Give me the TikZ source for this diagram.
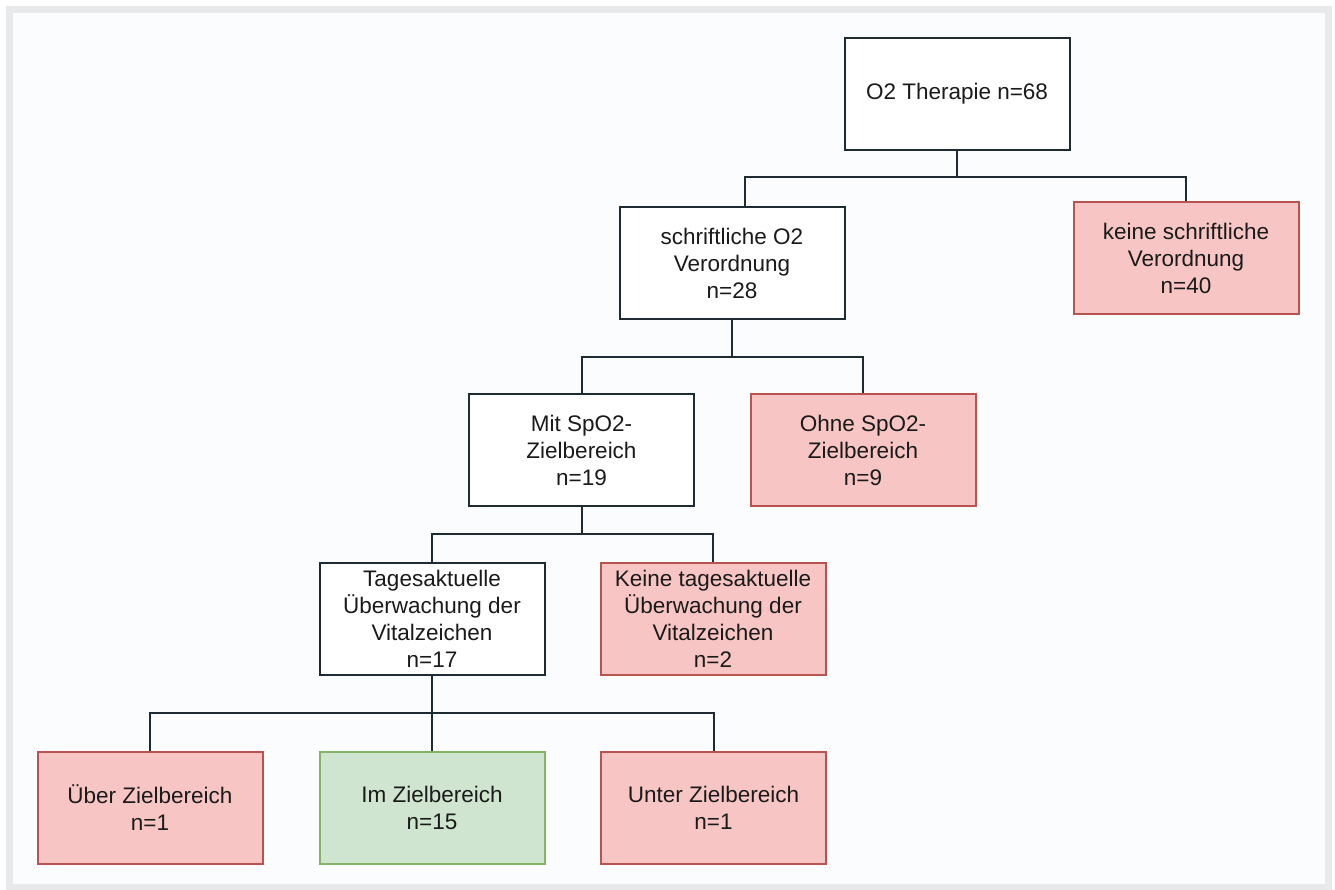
\documentclass[tikz,border=0pt]{standalone}
\usepackage{fontspec}
\setmainfont{Liberation Sans}
\definecolor{frameg}{HTML}{E8E9EB}
\definecolor{bgc}{HTML}{FBFCFD}
\definecolor{ink}{HTML}{1E2B33}
\definecolor{redfill}{HTML}{F7C6C4}
\definecolor{redline}{HTML}{B85450}
\definecolor{greenfill}{HTML}{CFE5CF}
\definecolor{greenline}{HTML}{82B366}
\definecolor{txt}{HTML}{1A1A1A}
\tikzset{
  box/.style={draw=ink, fill=white, line width=2pt, minimum width=225pt, minimum height=112pt,
    inner sep=0pt, align=center, text=txt, font=\fontsize{22.5}{27}\selectfont},
  redbox/.style={box, draw=redline, fill=redfill},
  greenbox/.style={box, draw=greenline, fill=greenfill},
  conn/.style={draw=ink, line width=2pt}
}
\begin{document}
\begin{tikzpicture}[x=1pt, y=-1pt]
\useasboundingbox (0,0) rectangle (1335,890);
\fill[white] (0,0) rectangle (1335,890);
\fill[frameg] (6,6) rectangle (1332,890);
\fill[bgc] (13,13) rectangle (1325,884);

\node[box] (o2) at (957,94) {O2 Therapie n=68};
\node[box] (schr) at (732,263) {schriftliche O2\\Verordnung\\n=28};
\node[redbox] (keine) at (1186,258.5) {keine schriftliche\\Verordnung\\n=40};
\node[box] (mit) at (581.5,450) {Mit SpO2-\\Zielbereich\\n=19};
\node[redbox] (ohne) at (863,450) {Ohne SpO2-\\Zielbereich\\n=9};
\node[box] (tages) at (432,619) {Tagesaktuelle\\Überwachung der\\Vitalzeichen\\n=17};
\node[redbox] (ktages) at (713,619) {Keine tagesaktuelle\\Überwachung der\\Vitalzeichen\\n=2};
\node[redbox] (ueber) at (150,807.5) {Über Zielbereich\\n=1};
\node[greenbox] (im) at (432,807.5) {Im Zielbereich\\n=15};
\node[redbox] (unter) at (713.5,807.5) {Unter Zielbereich\\n=1};

\draw[conn] (o2.south) -- ++(0,26) -| ([xshift=13pt]schr.north);
\draw[conn] (o2.south) -- ++(0,26) -| (keine.north);
\draw[conn] (schr.south) -- ++(0,37) -| (mit.north);
\draw[conn] (schr.south) -- ++(0,37) -| (ohne.north);
\draw[conn] (mit.south) -- ++(0,27) -| (tages.north);
\draw[conn] (mit.south) -- ++(0,27) -| (ktages.north);
\draw[conn] (tages.south) -- ++(0,37) -| (ueber.north);
\draw[conn] (tages.south) -- (im.north);
\draw[conn] (tages.south) -- ++(0,37) -| (unter.north);
\end{tikzpicture}
\end{document}
